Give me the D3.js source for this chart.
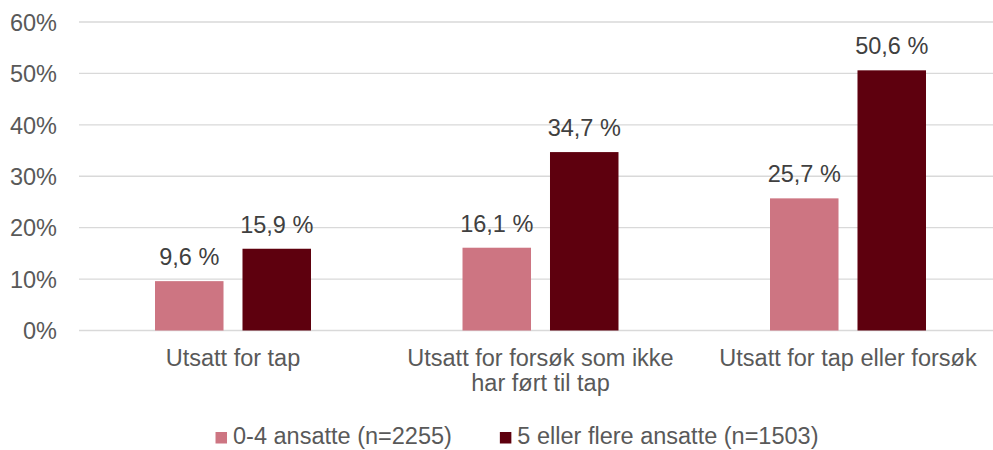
<!DOCTYPE html>
<html>
<head>
<meta charset="utf-8">
<script src="https://cdn.jsdelivr.net/npm/d3@7"></script>
<style>
  html, body { margin: 0; padding: 0; background: #fff; }
  svg { display: block; font-family: "Liberation Sans", Arial, sans-serif; }
</style>
</head>
<body>
<svg id="chart" width="993" height="450"></svg>
<script>
const categories = [["Utsatt for tap"], ["Utsatt for forsøk som ikke", "har ført til tap"], ["Utsatt for tap eller forsøk"]];
const seriesNames = ["0-4 ansatte (n=2255)", "5 eller flere ansatte (n=1503)"];
const seriesColors = ["#CD7582", "#5E000E"];
const small = [9.6, 16.1, 25.7];
const large = [15.9, 34.7, 50.6];
const yTicks = [0, 10, 20, 30, 40, 50, 60];

const values = [small, large];
const FS = 23.5;
const svg = d3.select("#chart");
const catKeys = categories.map(c => c.join(" "));

const x0 = d3.scaleBand().domain(catKeys).range([79.25, 1001.75]).padding(0);
const x1 = d3.scaleBand().domain(d3.range(seriesNames.length))
  .range([0, x0.bandwidth()]).paddingInner(0.217).paddingOuter(0.866);
const y = d3.scaleLinear().domain([0, 60]).range([330.5, 22]);

// gridlines
svg.append("g").selectAll("line").data(yTicks).join("line")
  .attr("x1", 79).attr("x2", 1002)
  .attr("y1", d => y(d)).attr("y2", d => y(d))
  .attr("stroke", "#d9d9d9").attr("stroke-width", 1.3);

// y axis labels
const yAxis = d3.axisLeft(y).tickValues(yTicks).tickFormat(d => d + "%").tickSize(0).tickPadding(0);
const ya = svg.append("g").attr("transform", "translate(57,0)").call(yAxis);
ya.select(".domain").remove();
ya.selectAll("text").attr("font-size", FS).attr("fill", "#595959")
  .attr("font-family", "Liberation Sans, Arial, sans-serif").attr("dy", "0.35em");

// bars
const groups = svg.append("g").selectAll("g").data(catKeys).join("g")
  .attr("transform", d => `translate(${x0(d)},0)`);
groups.selectAll("rect").data((d, i) => values.map((s, si) => ({ si, v: s[i] }))).join("rect")
  .attr("x", d => x1(d.si)).attr("width", x1.bandwidth())
  .attr("y", d => y(d.v)).attr("height", d => y(0) - y(d.v))
  .attr("fill", d => seriesColors[d.si]);
groups.selectAll("text.val").data((d, i) => values.map((s, si) => ({ si, v: s[i] }))).join("text")
  .attr("class", "val")
  .attr("x", d => x1(d.si) + x1.bandwidth() / 2)
  .attr("y", d => y(d.v) - 16)
  .attr("text-anchor", "middle").attr("font-size", FS).attr("fill", "#404040")
  .text(d => d.v.toFixed(1).replace(".", ",") + " %");

// category labels
const xa = svg.append("g");
categories.forEach((lines, i) => {
  const t = xa.append("text").attr("text-anchor", "middle").attr("font-size", FS).attr("fill", "#595959");
  lines.forEach((ln, j) => {
    t.append("tspan").attr("x", x0(catKeys[i]) + x0.bandwidth() / 2).attr("y", 366 + j * 25).text(ln);
  });
});

// legend
const leg = svg.append("g");
let cx = 0;
seriesNames.forEach((name, i) => {
  const g = leg.append("g").attr("transform", `translate(${cx},0)`);
  g.append("rect").attr("x", 0).attr("y", 432).attr("width", 11.5).attr("height", 11.5).attr("fill", seriesColors[i]);
  const t = g.append("text").attr("x", 17.5).attr("y", 444).attr("font-size", FS).attr("fill", "#595959").text(name);
  const w = t.node().getComputedTextLength();
  cx += 17.5 + w + 48;
});
const totalW = cx - 48;
leg.attr("transform", `translate(${517 - totalW / 2},0)`);
</script>
</body>
</html>
